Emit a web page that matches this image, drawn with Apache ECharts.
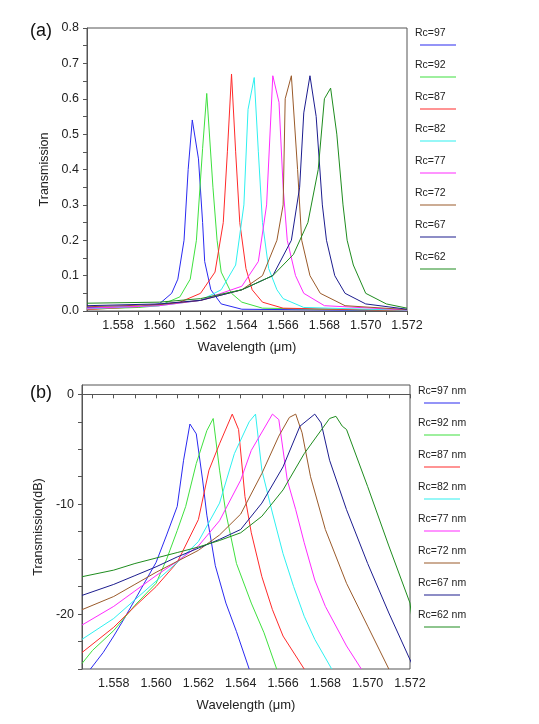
<!DOCTYPE html>
<html><head><meta charset="utf-8">
<script src="https://cdn.jsdelivr.net/npm/echarts@6/dist/echarts.min.js"></script>
<style>html,body{margin:0;padding:0;background:#fff}#c{width:539px;height:724px}</style>
</head><body><div id="c"></div>
<script>
const names = ['Rc=97','Rc=92','Rc=87','Rc=82','Rc=77','Rc=72','Rc=67','Rc=62'];
const colors = ['#2a2af0','#3fe03f','#ff2a2a','#2ef0f0','#ff2aff','#9a5a2a','#1c1c8e','#1e8c1e'];
const xTicks = [1.558,1.560,1.562,1.564,1.566,1.568,1.570,1.572];
// linear transmission [wavelength um, T]
const lin97 = [[1.5565,0.01],[1.559,0.012],[1.560,0.02],[1.5606,0.05],[1.5609,0.09],[1.5612,0.2],[1.5614,0.4],[1.5616,0.54],[1.5619,0.43],[1.5621,0.25],[1.5622,0.14],[1.5625,0.06],[1.563,0.02],[1.564,0.005],[1.572,0.001]];
const lin92 = [[1.5565,0.005],[1.559,0.01],[1.560,0.015],[1.561,0.04],[1.5615,0.09],[1.5618,0.2],[1.5621,0.46],[1.5623,0.615],[1.5626,0.35],[1.5628,0.2],[1.563,0.11],[1.5635,0.05],[1.564,0.025],[1.565,0.008],[1.572,0.001]];
const lin87 = [[1.5565,0.004],[1.559,0.012],[1.561,0.025],[1.562,0.05],[1.5627,0.11],[1.5631,0.25],[1.5633,0.45],[1.5635,0.67],[1.5637,0.45],[1.5639,0.25],[1.5642,0.12],[1.5645,0.06],[1.565,0.025],[1.566,0.008],[1.572,0.001]];
const lin82 = [[1.5565,0.006],[1.560,0.015],[1.562,0.03],[1.563,0.06],[1.5637,0.13],[1.5641,0.3],[1.5643,0.57],[1.5646,0.66],[1.5648,0.45],[1.565,0.25],[1.5653,0.12],[1.5657,0.06],[1.566,0.035],[1.567,0.01],[1.572,0.002]];
const lin77 = [[1.5565,0.008],[1.560,0.015],[1.562,0.03],[1.564,0.07],[1.5648,0.14],[1.5652,0.3],[1.5655,0.665],[1.5658,0.59],[1.566,0.35],[1.5662,0.2],[1.5666,0.1],[1.567,0.05],[1.568,0.015],[1.572,0.003]];
const lin72 = [[1.5565,0.012],[1.560,0.018],[1.562,0.03],[1.564,0.06],[1.565,0.1],[1.5657,0.2],[1.566,0.3],[1.5661,0.6],[1.5664,0.665],[1.5667,0.4],[1.5669,0.2],[1.5673,0.1],[1.5678,0.05],[1.569,0.015],[1.572,0.004]];
const lin67 = [[1.5565,0.015],[1.560,0.02],[1.562,0.03],[1.564,0.06],[1.5655,0.1],[1.5664,0.2],[1.5668,0.35],[1.567,0.56],[1.5673,0.665],[1.5676,0.55],[1.5679,0.3],[1.5681,0.2],[1.5685,0.1],[1.569,0.05],[1.570,0.02],[1.572,0.005]];
const lin62 = [[1.5565,0.022],[1.560,0.025],[1.562,0.035],[1.564,0.06],[1.5655,0.1],[1.5665,0.16],[1.5672,0.25],[1.5677,0.4],[1.568,0.6],[1.5683,0.63],[1.5686,0.5],[1.5689,0.3],[1.5691,0.2],[1.5694,0.13],[1.570,0.05],[1.571,0.02],[1.572,0.008]];
// transmission in dB
const db97 = [[1.5569,-25],[1.5575,-23.5],[1.558,-22],[1.5585,-20.4],[1.559,-18.7],[1.5595,-17],[1.560,-15.3],[1.5605,-12.8],[1.561,-10.2],[1.5613,-6],[1.5616,-2.7],[1.5619,-3.6],[1.5622,-7.8],[1.5624,-11],[1.5628,-15.6],[1.5633,-19],[1.5638,-21.6],[1.5644,-25]];
const db92 = [[1.5565,-24.5],[1.557,-23.3],[1.558,-21.5],[1.559,-19.2],[1.560,-17.2],[1.5605,-15],[1.561,-12.4],[1.5614,-10.2],[1.5619,-6.3],[1.5624,-3.3],[1.5627,-2.2],[1.563,-6.9],[1.5633,-10.8],[1.5638,-15.4],[1.5645,-19],[1.5651,-21.7],[1.5657,-25]];
const db87 = [[1.5565,-23.5],[1.558,-21.2],[1.559,-19.3],[1.560,-17.5],[1.561,-15.3],[1.562,-11.4],[1.5625,-6.9],[1.563,-4.5],[1.5636,-1.8],[1.5639,-3.2],[1.5642,-9.3],[1.5645,-12.6],[1.565,-16.6],[1.5655,-19.6],[1.566,-22],[1.567,-25]];
const db82 = [[1.5565,-22.3],[1.558,-20.4],[1.559,-18.7],[1.560,-17],[1.561,-15.3],[1.562,-13.4],[1.563,-9.9],[1.5637,-5.4],[1.5644,-2.5],[1.5647,-1.8],[1.565,-6.9],[1.5655,-10.8],[1.566,-14.5],[1.5665,-17.5],[1.567,-20.2],[1.5675,-22.3],[1.5683,-25]];
const db77 = [[1.5565,-21],[1.558,-19.3],[1.559,-17.9],[1.560,-16.5],[1.561,-15.2],[1.562,-13.8],[1.563,-11.5],[1.564,-7.8],[1.5645,-5.1],[1.5655,-1.8],[1.5658,-2.3],[1.5662,-7.8],[1.5666,-10.5],[1.567,-13.5],[1.5675,-16.9],[1.568,-19.3],[1.569,-22.9],[1.5697,-25]];
const db72 = [[1.5565,-19.6],[1.558,-18.4],[1.559,-17.3],[1.560,-16.2],[1.561,-15.2],[1.562,-14.2],[1.563,-12.8],[1.564,-10.9],[1.565,-7.2],[1.5658,-3.8],[1.5663,-2.1],[1.5666,-1.8],[1.5669,-3.5],[1.5673,-7.5],[1.568,-12.3],[1.569,-17.2],[1.570,-21.1],[1.571,-25]];
const db67 = [[1.5565,-18.3],[1.558,-17.3],[1.559,-16.5],[1.560,-15.7],[1.561,-14.8],[1.562,-14],[1.563,-13.2],[1.564,-12.3],[1.565,-9.9],[1.566,-6.6],[1.5668,-2.9],[1.5675,-1.8],[1.5678,-2.6],[1.5682,-6],[1.569,-10.5],[1.570,-15.4],[1.571,-19.9],[1.5722,-25]];
const db62 = [[1.5565,-16.6],[1.558,-16],[1.559,-15.4],[1.560,-14.9],[1.561,-14.4],[1.562,-13.9],[1.563,-13.3],[1.564,-12.6],[1.565,-11.1],[1.566,-8.7],[1.567,-5.4],[1.5682,-2.2],[1.5685,-2.0],[1.5688,-2.9],[1.569,-3.2],[1.570,-8.4],[1.571,-13.8],[1.572,-19],[1.5722,-22]];
const linData = [lin97,lin92,lin87,lin82,lin77,lin72,lin67,lin62];
const dbData = [db97,db92,db87,db82,db77,db72,db67,db62];

const F = 'Liberation Sans, Arial, sans-serif';
const minorX = []; for (let i = 0; i <= 16; i++) minorX.push(+(1.557 + i*0.001).toFixed(3));
function xAxis(gi){
  return {type:'value', gridIndex:gi, min:1.5565, max:1.572,
    name:'Wavelength (\u03bcm)', nameLocation:'middle', nameGap:30, nameTextStyle:{fontFamily:F,fontSize:13,color:'#222'},
    axisLine:{lineStyle:{color:'#555'}}, splitLine:{show:false},
    axisTick:{customValues:minorX, length:4, lineStyle:{color:'#555'}},
    axisLabel:{customValues:xTicks, formatter:v=>v.toFixed(3), fontFamily:F, fontSize:12.5, color:'#222', margin:8}};
}
const yTicksA=[]; for(let i=0;i<=16;i++) yTicksA.push(+(i*0.05).toFixed(2));
const yLabA=[0,0.1,0.2,0.3,0.4,0.5,0.6,0.7,0.8];
const yTicksB=[]; for(let i=0;i<=10;i++) yTicksB.push(-i*2.5);
const yLabB=[0,-10,-20];
const series=[];
names.forEach((n,i)=>{
  series.push({type:'line', xAxisIndex:0, yAxisIndex:0, data:linData[i], showSymbol:false, lineStyle:{width:1,color:colors[i]}, animation:false, clip:true});
  series.push({type:'line', xAxisIndex:1, yAxisIndex:1, data:dbData[i], showSymbol:false, lineStyle:{width:1,color:colors[i]}, animation:false, clip:true});
});
const graphic=[
  {type:'text', left:30, top:22, style:{text:'(a)', font:'18px '+F, fill:'#111'}},
  {type:'text', left:30, top:384, style:{text:'(b)', font:'18px '+F, fill:'#111'}}
];
names.forEach((n,i)=>{
  graphic.push({type:'text', left:415, top:28+32*i, style:{text:n, font:'10.5px '+F, fill:'#222'}});
  graphic.push({type:'line', shape:{x1:420,y1:45+32*i,x2:456,y2:45+32*i}, style:{stroke:colors[i],lineWidth:1.2}});
  graphic.push({type:'text', left:418, top:386+32*i, style:{text:n+' nm', font:'10.5px '+F, fill:'#222'}});
  graphic.push({type:'line', shape:{x1:424,y1:403+32*i,x2:460,y2:403+32*i}, style:{stroke:colors[i],lineWidth:1.2}});
});
const chart=echarts.init(document.getElementById('c'));
chart.setOption({
  backgroundColor:'#fff', animation:false,
  grid:[{left:87,top:28,width:320,height:283,show:true,borderColor:'#555',borderWidth:1},
        {left:82,top:385,width:328,height:284,show:true,borderColor:'#555',borderWidth:1}],
  xAxis:[xAxis(0),xAxis(1)],
  yAxis:[
    {type:'value',gridIndex:0,min:0,max:0.8,name:'Transmission',nameLocation:'middle',nameGap:32,nameTextStyle:{fontFamily:F,fontSize:12.5,color:'#222'},
     axisLine:{show:true,lineStyle:{color:'#555'}},splitLine:{show:false},
     axisTick:{customValues:yTicksA,length:4,lineStyle:{color:'#555'}},
     axisLabel:{customValues:yLabA,formatter:v=>v.toFixed(1),fontFamily:F,fontSize:12.5,color:'#222'}},
    {type:'value',gridIndex:1,min:-25,max:0.85,name:'Transmission(dB)',nameLocation:'middle',nameGap:36,nameTextStyle:{fontFamily:F,fontSize:12.5,color:'#222'},
     axisLine:{show:true,lineStyle:{color:'#555'}},splitLine:{show:false},
     axisTick:{customValues:yTicksB,length:4,lineStyle:{color:'#555'}},
     axisLabel:{customValues:yLabB,fontFamily:F,fontSize:12.5,color:'#222'}}
  ],
  series:series, graphic:graphic
});
</script></body></html>
